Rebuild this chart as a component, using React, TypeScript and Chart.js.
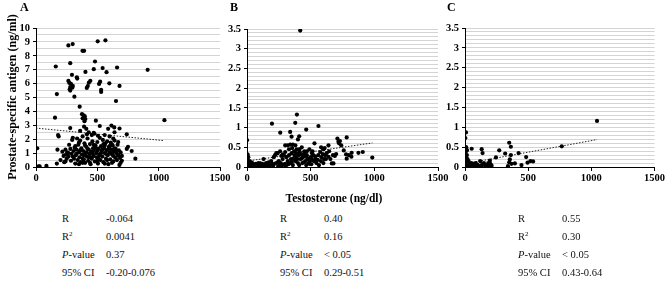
import React, { useEffect, useRef } from 'react';
import { Chart, registerables } from 'chart.js';

Chart.register(...registerables);

const SERIF = '"Liberation Serif", "Times New Roman", serif';

// ---------- data ----------
const panelLetters = ['A', 'B', 'C'];
const xTickValues = [0, 500, 1000, 1500];

// Panel A: testosterone (ng/dl), PSA (ng/ml)
const pointsA: number[][] = [
  [264, 8.75], [299, 8.84], [503, 9.04], [566, 9.11], [379, 8.36], [392, 8.36],
  [161, 7.23], [279, 7.47], [481, 7.59], [471, 7.04], [543, 7.12], [661, 7.16], [575, 6.82], [403, 6.84],
  [293, 6.63], [333, 6.45], [336, 6.36], [264, 6.19], [272, 6.05], [285, 5.98], [279, 5.75], [275, 5.59],
  [300, 5.83], [296, 5.71], [279, 5.5], [443, 6.2], [431, 6.07], [422, 5.82], [414, 5.69], [514, 5.98],
  [523, 6.14], [531, 5.55], [531, 5.4], [598, 6.02], [681, 5.83], [313, 5.06], [170, 5.25], [356, 4.34],
  [652, 4.75], [155, 3.55], [375, 3.8], [388, 3.72], [398, 3.65], [380, 3.5], [402, 3.45], [395, 3.3],
  [488, 3.33], [279, 2.8], [615, 2.98], [681, 2.77], [638, 2.85], [1047, 3.37], [910, 6.99],
  [360, 2.6], [392, 2.9], [410, 2.75], [430, 2.5], [470, 2.45], [560, 2.3], [740, 2.35], [520, 2.95],
  [588, 2.75], [640, 2.5],
  [10, 1.35], [20, 0.05], [30, 0.05], [85, 0.08], [170, 0.25], [180, 2.3], [185, 2.2], [175, 1.25],
  [200, 0.5], [215, 1.1], [225, 0.8], [230, 0.35], [240, 1.25], [245, 0.9], [250, 0.6], [255, 1.05],
  [265, 0.75], [270, 1.6], [280, 1.3], [285, 0.45], [290, 0.95], [295, 1.95], [300, 2.1], [305, 1.15],
  [310, 0.6], [315, 1.4], [320, 0.25], [325, 0.85], [330, 1.25], [335, 2.05], [340, 0.5], [345, 1.6],
  [350, 1.05], [355, 0.7], [360, 1.9], [365, 0.35], [370, 1.35], [375, 0.9], [380, 2.2], [385, 1.15],
  [390, 0.55], [395, 1.7], [400, 0.3], [405, 1.0], [410, 1.45], [415, 0.75], [420, 2.05], [425, 0.45],
  [430, 1.25], [435, 0.95], [440, 1.65], [445, 0.2], [450, 1.1], [455, 0.6], [460, 1.85], [465, 1.35],
  [470, 0.8], [475, 2.4], [480, 0.4], [485, 1.55], [490, 1.0], [495, 0.7], [500, 1.8], [505, 0.25],
  [510, 1.3], [515, 0.9], [520, 2.1], [525, 0.5], [530, 1.5], [535, 1.15], [540, 0.75], [545, 1.95],
  [550, 0.35], [555, 1.35], [560, 1.0], [565, 1.7], [570, 0.6], [575, 1.2], [580, 1.85], [585, 0.85],
  [590, 0.2], [595, 1.45], [600, 1.05], [605, 0.55], [610, 1.75], [615, 1.25], [620, 0.9], [625, 1.55],
  [630, 0.4], [635, 1.1], [640, 1.9], [645, 0.7], [650, 1.3], [655, 1.0], [660, 0.5], [665, 1.6],
  [670, 0.85], [675, 1.2], [680, 0.15], [685, 0.65], [690, 1.05], [700, 0.45], [740, 1.3], [750, 1.45],
  [780, 1.15], [810, 0.6],
  [330, 0.95], [360, 1.2], [390, 0.85], [420, 1.3], [450, 0.7], [480, 1.45], [510, 0.6], [540, 1.25],
  [570, 0.95], [600, 1.5], [630, 0.8], [660, 1.15], [350, 1.75], [380, 0.6], [410, 1.05], [440, 0.95],
  [470, 1.2], [500, 0.45], [530, 1.0], [560, 1.55], [590, 1.3], [620, 1.6], [650, 0.65], [400, 1.55],
  [430, 0.7], [460, 1.0], [490, 1.35], [520, 0.85], [550, 1.65], [580, 0.5], [610, 1.0], [640, 1.35],
  [440, 0.3], [380, 0.3], [500, 1.15], [470, 1.6], [560, 0.25], [620, 0.3], [350, 0.2], [415, 2.35],
  [455, 2.3], [265, 1.0], [240, 0.4], [300, 0.75], [320, 1.5], [700, 0.8], [690, 0.3], [670, 1.8],
  [600, 2.2], [630, 2.05], [505, 2.25],
];

const pointsB: number[][] = [
  [418, 3.46], [196, 1.1], [392, 1.33], [379, 1.12], [561, 1.04], [465, 0.95], [261, 0.87], [339, 0.89],
  [350, 0.77], [410, 0.78], [400, 0.7], [0, 0.68], [710, 0.72], [718, 0.64], [723, 0.6], [783, 0.75],
  [778, 0.32], [783, 0.21], [822, 0.36], [875, 0.36], [909, 0.38], [984, 0.24], [640, 0.55], [582, 0.5],
  [530, 0.6], [610, 0.48], [600, 0.45], [666, 0.09], [679, 0.09], [614, 0.3], [640, 0.26], [700, 0.33],
  [690, 0.28],
  [300, 0.55], [320, 0.55], [340, 0.57], [360, 0.57], [380, 0.55], [330, 0.45], [290, 0.3], [310, 0.25],
  [350, 0.35], [370, 0.4], [390, 0.35], [410, 0.45], [430, 0.5], [450, 0.4], [470, 0.3], [490, 0.45],
  [510, 0.35], [420, 0.2], [440, 0.25], [460, 0.15], [480, 0.2], [500, 0.25], [520, 0.3], [540, 0.2],
  [560, 0.3], [580, 0.15], [600, 0.1], [620, 0.2], [400, 0.1], [380, 0.15], [360, 0.05], [340, 0.1],
  [320, 0.15], [300, 0.08], [280, 0.2], [260, 0.05], [240, 0.12], [220, 0.3], [210, 0.25], [230, 0.35],
  [250, 0.15], [270, 0.28], [200, 0.08], [190, 0.15], [180, 0.05], [170, 0.12], [160, 0.03], [150, 0.1],
  [140, 0.05], [130, 0.2], [120, 0.08], [110, 0.02], [100, 0.05], [90, 0.1], [80, 0.03], [70, 0.08],
  [60, 0.02], [50, 0.05], [40, 0.1], [30, 0.02], [20, 0.15], [15, 0.05], [10, 0.25], [5, 0.32],
  [8, 0.1], [12, 0.02], [3, 0.18], [25, 0.08], [35, 0.12], [45, 0.03], [55, 0.07], [65, 0.04],
  [75, 0.01], [85, 0.06], [95, 0.02], [105, 0.09], [115, 0.04], [125, 0.01], [145, 0.07], [175, 0.02],
  [205, 0.04], [225, 0.09], [245, 0.02], [265, 0.1], [285, 0.06], [305, 0.03], [325, 0.07], [345, 0.2],
  [365, 0.22], [385, 0.25], [405, 0.3], [425, 0.32], [445, 0.12], [465, 0.05], [485, 0.1], [505, 0.07],
  [525, 0.15], [545, 0.1], [565, 0.05], [585, 0.25], [605, 0.2], [625, 0.35], [645, 0.4], [655, 0.2],
  [675, 0.3], [355, 0.48], [375, 0.3], [395, 0.2], [415, 0.38], [435, 0.1], [455, 0.28], [475, 0.22],
  [495, 0.15], [515, 0.4], [535, 0.27], [555, 0.18], [575, 0.38], [595, 0.33], [730, 0.66], [740, 0.55],
  [760, 0.42], [800, 0.3], [820, 0.26], [300, 0.38], [280, 0.32], [260, 0.4], [240, 0.35], [270, 0.02],
  [330, 0.3], [350, 0.12], [370, 0.18], [390, 0.45], [410, 0.05], [430, 0.22], [450, 0.35], [470, 0.4],
  [490, 0.08], [510, 0.2],
];

const pointsC: number[][] = [
  [1045, 1.16], [766, 0.52], [350, 0.61], [363, 0.51], [271, 0.42], [318, 0.34], [424, 0.35], [363, 0.3],
  [132, 0.45], [139, 0.35], [53, 0.46], [8, 0.87], [3, 0.73], [8, 0.5], [16, 0.42], [484, 0.25],
  [495, 0.11], [518, 0.15], [539, 0.14], [245, 0.24], [355, 0.19], [368, 0.08], [395, 0.09], [447, 0.05],
  [184, 0.1], [197, 0.16], [340, 0.02], [350, 0.12], [150, 0.1], [120, 0.15], [110, 0.02], [100, 0.05],
  [90, 0.03], [80, 0.08], [70, 0.01], [60, 0.05], [50, 0.1], [40, 0.02], [30, 0.06], [25, 0.12],
  [20, 0.2], [15, 0.3], [10, 0.25], [5, 0.15], [2, 0.05], [12, 0.08], [18, 0.02], [22, 0.04],
  [28, 0.15], [35, 0.08], [45, 0.04], [55, 0.02], [65, 0.08], [75, 0.03], [85, 0.1], [95, 0.06],
  [130, 0.04], [140, 0.08], [160, 0.03], [170, 0.05], [190, 0.02], [200, 0.08], [210, 0.04], [6, 0.38],
  [10, 0.48], [4, 0.02], [14, 0.12],
];

// regression (trend) line end points
const trendAx = [0, 1040];
const trendAy = [2.8, 1.9];
const trendBx = [0, 985];
const trendBy = [0.15, 0.61];
const trendCx = [15, 1045];
const trendCy = [0.09, 0.69];

// y axis ranges / ticks
const yMaxA = 10;
const yMaxBC = 3.5;

// statistics table
const statLabels = ['R', 'R2', 'P-value', '95% CI'];
const statsA = ['-0.064', '0.0041', '0.37', '-0.20-0.076'];
const statsB = ['0.40', '0.16', '< 0.05', '0.29-0.51'];
const statsC = ['0.55', '0.30', '< 0.05', '0.43-0.64'];

const xTitle = 'Testosterone (ng/dl)';
const yTitle = 'Prostate-specific antigen (ng/ml)';

// ---------- panel ----------
type PanelProps = {
  left: number;
  width: number;
  axisLeft: number;
  axisRight: number;
  top: number;
  points: number[][];
  tx: number[];
  ty: number[];
  yMax: number;
  gridStep: number;
  labelStep: number;
};

const H = 190;
const AXIS_BOTTOM = 167;

function Panel(p: PanelProps) {
  const ref = useRef<HTMLCanvasElement>(null);
  useEffect(() => {
    if (!ref.current) return;
    const isLabel = (v: number) => {
      const r = v / p.labelStep;
      return Math.abs(r - Math.round(r)) < 1e-6;
    };
    const tickFont = { family: SERIF, size: 10.5, weight: 'bold' as const };
    const chart = new Chart(ref.current, {
      type: 'scatter',
      data: {
        datasets: [
          {
            data: p.points.map(([x, y]) => ({ x, y })),
            backgroundColor: '#000',
            borderColor: '#000',
            pointRadius: 2.1,
            pointHoverRadius: 2.1,
            borderWidth: 0,
          },
          {
            type: 'line',
            data: p.tx.map((x, i) => ({ x, y: p.ty[i] })),
            borderColor: '#222',
            borderWidth: 1,
            borderDash: [1.5, 1.5],
            pointRadius: 0,
            showLine: true,
            fill: false,
          } as any,
        ],
      },
      options: {
        responsive: false,
        animation: false,
        events: [],
        plugins: { legend: { display: false }, tooltip: { enabled: false } },
        layout: {
          padding: { top: p.top, right: p.left + p.width - p.axisRight, left: 0, bottom: 0 },
        },
        scales: {
          x: {
            type: 'linear',
            min: 0,
            max: 1500,
            afterBuildTicks: (s: any) => {
              s.ticks = xTickValues.map((v) => ({ value: v }));
            },
            ticks: {
              font: tickFont, color: '#000', padding: 1, maxRotation: 0, autoSkip: false,
              callback: (v: any) => String(Math.round(Number(v))),
            },
            grid: { drawOnChartArea: false, tickLength: 4, color: '#000' },
            border: { color: '#000', width: 1 },
            afterFit: (s: any) => {
              s.height = H - AXIS_BOTTOM;
            },
          },
          y: {
            type: 'linear',
            min: 0,
            max: p.yMax,
            ticks: {
              stepSize: p.gridStep,
              autoSkip: false,
              font: tickFont,
              color: '#000',
              padding: 3,
              callback: (v: any) => {
                const n = Math.round(Number(v) * 1000) / 1000;
                return isLabel(n) ? String(n) : '';
              },
            },
            grid: {
              color: '#d4d4d4',
              lineWidth: 1,
              tickLength: 3,
              tickColor: (ctx: any) =>
                ctx.tick && isLabel(Math.round(ctx.tick.value * 1000) / 1000) ? '#000' : 'rgba(0,0,0,0)',
            },
            border: { color: '#000', width: 1 },
            afterFit: (s: any) => {
              s.width = p.axisLeft - p.left;
            },
          },
        },
      },
    });
    return () => chart.destroy();
  }, []);
  return (
    <canvas
      ref={ref}
      width={p.width}
      height={H}
      style={{ position: 'absolute', left: p.left, top: 0, width: p.width, height: H }}
    />
  );
}

function StatTable({ left, values }: { left: number; values: string[] }) {
  const rowsY = [212, 230, 248, 266];
  return (
    <>
      {statLabels.map((lab, i) => (
        <React.Fragment key={i}>
          <div
            style={{
              position: 'absolute', left, top: rowsY[i], lineHeight: '14px', fontSize: 10.5,
              fontFamily: SERIF, whiteSpace: 'nowrap', color: '#111',
            }}
          >
            {lab === 'R2' ? (
              <span>R<sup style={{ fontSize: 7, verticalAlign: 'top', lineHeight: '8px' }}>2</sup></span>
            ) : lab === 'P-value' ? (
              <span><i>P</i>-value</span>
            ) : (
              lab
            )}
          </div>
          <div
            style={{
              position: 'absolute', left: left + 44, top: rowsY[i], lineHeight: '14px', fontSize: 10.5,
              fontFamily: SERIF, whiteSpace: 'nowrap', color: '#111',
            }}
          >
            {values[i]}
          </div>
        </React.Fragment>
      ))}
    </>
  );
}

export default function App() {
  const letterPos = [20, 230, 447];
  return (
    <div style={{ position: 'absolute', left: 0, top: 0, width: 666, height: 282, background: '#fff', overflow: 'hidden' }}>
      <Panel left={0} width={240} axisLeft={36} axisRight={220} top={28} points={pointsA} tx={trendAx} ty={trendAy} yMax={yMaxA} gridStep={0.5} labelStep={1} />
      <Panel left={225} width={225} axisLeft={247} axisRight={438} top={29} points={pointsB} tx={trendBx} ty={trendBy} yMax={yMaxBC} gridStep={0.1} labelStep={0.5} />
      <Panel left={443} width={223} axisLeft={465} axisRight={655} top={28} points={pointsC} tx={trendCx} ty={trendCy} yMax={yMaxBC} gridStep={0.1} labelStep={0.5} />
      {panelLetters.map((l, i) => (
        <div key={l} style={{ position: 'absolute', left: letterPos[i], top: 0, fontFamily: SERIF, fontWeight: 'bold', fontSize: 12, lineHeight: '14px' }}>
          {l}
        </div>
      ))}
      <div
        style={{
          position: 'absolute', left: 12 - 100, top: 97 - 7, width: 200, height: 14, lineHeight: '14px',
          textAlign: 'center', transform: 'rotate(-90deg)', fontFamily: SERIF, fontWeight: 'bold', fontSize: 12,
          whiteSpace: 'nowrap',
        }}
      >
        {yTitle}
      </div>
      <div
        style={{
          position: 'absolute', left: 234, top: 191, width: 200, lineHeight: '14px', textAlign: 'center',
          fontFamily: SERIF, fontWeight: 'bold', fontSize: 11.5, whiteSpace: 'nowrap',
        }}
      >
        {xTitle}
      </div>
      <StatTable left={62} values={statsA} />
      <StatTable left={280} values={statsB} />
      <StatTable left={518} values={statsC} />
    </div>
  );
}
